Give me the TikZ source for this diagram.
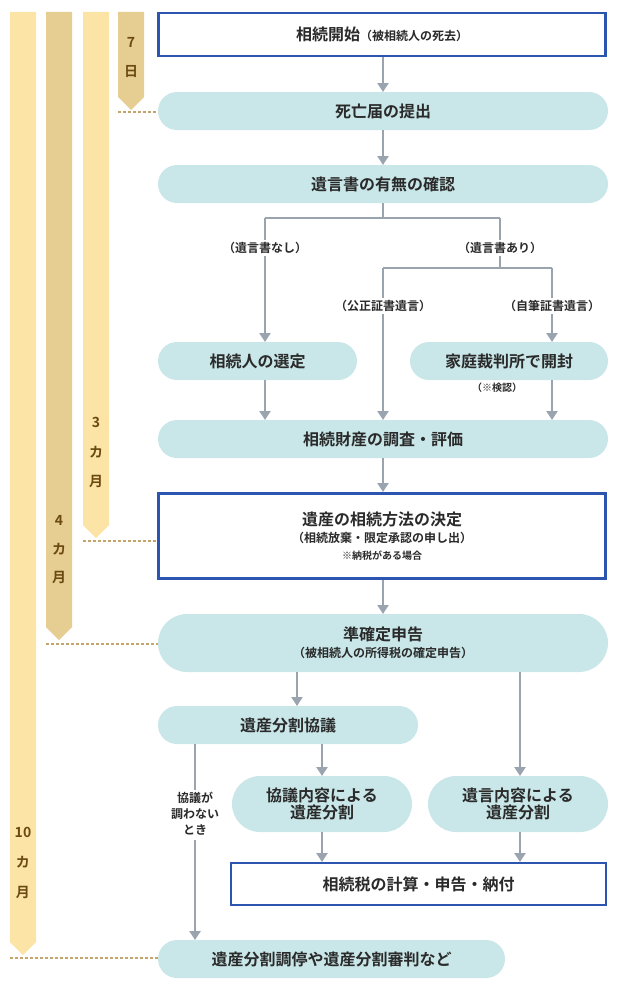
\documentclass[tikz,border=0pt]{standalone}
\usepackage{fontspec}
\setmainfont{Noto Sans CJK JP}[BoldFont={Noto Sans CJK JP Bold}]
\usetikzlibrary{arrows.meta}
\definecolor{pill}{HTML}{C9E6E8}
\definecolor{bblue}{HTML}{2B55B0}
\definecolor{lgold}{HTML}{FCE4A6}
\definecolor{tgold}{HTML}{E6CD92}
\definecolor{dgold}{HTML}{6B4A12}
\definecolor{arr}{HTML}{9AA4AF}
\definecolor{txt}{HTML}{2A2A2A}
\definecolor{dash}{HTML}{C4A46A}
\begin{document}
\begin{tikzpicture}[x=1pt,y=-1pt,
 pillst/.style={fill=pill,rounded corners=19pt,text=txt,font=\bfseries\fontsize{16}{20}\selectfont,align=center},
 boxst/.style={draw=bblue,line width=2.5pt,fill=white,text=txt,font=\bfseries\fontsize{16}{20}\selectfont,align=center},
 con/.style={draw=arr,line width=2.8pt},
 ar/.style={con,-{Triangle[length=9pt,width=11pt]}},
 lab/.style={text=txt,fill=white,inner sep=2pt,font=\bfseries\fontsize{12}{15}\selectfont,align=center},
 bt/.style={text=dgold,font=\bfseries\fontsize{14}{16}\selectfont},
 dl/.style={draw=dash,line width=1.3pt,dash pattern=on 3pt off 2pt}]
\useasboundingbox (0,0) rectangle (620,990);
% bars
\fill[lgold] (10,12) -- (36,12) -- (36,942) -- (23,955) -- (10,942) -- cycle;
\fill[tgold] (46,12) -- (72,12) -- (72,627) -- (59,640) -- (46,627) -- cycle;
\fill[lgold] (83,12) -- (109,12) -- (109,525) -- (96,538) -- (83,525) -- cycle;
\fill[tgold] (118,12) -- (144,12) -- (144,97) -- (131,110) -- (118,97) -- cycle;
\node[bt] (b7) at (131,42) {7}; \node[bt] (b7d) at (131,72) {日};
\node[bt] (b3) at (96,422) {3}; \node[bt] (b3k) at (96,452) {カ}; \node[bt] (b3m) at (96,482) {月};
\node[bt] (b4) at (59,520) {4}; \node[bt] (b4k) at (59,549) {カ}; \node[bt] (b4m) at (59,578) {月};
\node[bt] (b10) at (23,832) {10}; \node[bt] (b10k) at (23,862) {カ}; \node[bt] (b10m) at (23,893) {月};
\draw[dl] (118,112) -- (158,112);
\draw[dl] (83,541) -- (157,541);
\draw[dl] (46,644) -- (158,644);
\draw[dl] (10,958) -- (158,958);
% nodes
\node[boxst,minimum width=447,minimum height=43] (n1) at (382,34.5) {相続開始{\fontsize{12}{14}\selectfont（被相続人の死去）}};
\node[pillst,minimum width=450,minimum height=38] (n2) at (383,111) {死亡届の提出};
\node[pillst,minimum width=450,minimum height=38] (n3) at (383,184) {遺言書の有無の確認};
\node[pillst,minimum width=199,minimum height=38] (n4) at (257.5,361) {相続人の選定};
\node[pillst,minimum width=198,minimum height=38] (n5) at (509,361) {家庭裁判所で開封};
\node[pillst,minimum width=450,minimum height=38] (n6) at (383,439) {相続財産の調査・評価};
\node[boxst,minimum width=447,minimum height=85] (n7) at (382,536) {遺産の相続方法の決定\\[-3pt]{\fontsize{12}{15}\selectfont（相続放棄・限定承認の申し出）}\\[-3pt]{\fontsize{10}{13}\selectfont ※納税がある場合}};
\node[pillst,minimum width=450,minimum height=58,rounded corners=29pt] (n8) at (383,643) {準確定申告\\[-3pt]{\fontsize{12}{15}\selectfont（被相続人の所得税の確定申告）}};
\node[pillst,minimum width=260,minimum height=38] (n9) at (288,725) {遺産分割協議};
\node[pillst,minimum width=180,minimum height=56,rounded corners=28pt] (n10) at (322,804) {協議内容による\\[-3pt]遺産分割};
\node[pillst,minimum width=180,minimum height=56,rounded corners=28pt] (n11) at (518,804) {遺言内容による\\[-3pt]遺産分割};
\node[boxst,minimum width=375,minimum height=42] (n12) at (418.5,884) {相続税の計算・申告・納付};
\node[pillst,minimum width=347,minimum height=38] (n13) at (331.5,959) {遺産分割調停や遺産分割審判など};
% connectors
\coordinate (j1) at (383,218); \coordinate (jl) at (265,218); \coordinate (jr) at (500,218);
\coordinate (j2) at (500,268); \coordinate (j2l) at (383,268); \coordinate (j2r) at (552,268);
\draw[ar] (383,57) -- (383,92);
\draw[ar] (383,130) -- (383,165);
\draw[con] (383,203) -- (j1);
\draw[con] (jl) -- (jr);
\draw[ar] (jl) -- (265,342);
\draw[con] (jr) -- (j2);
\draw[con] (j2l) -- (j2r);
\draw[ar] (j2r) -- (552,342);
\draw[ar] (j2l) -- (383,420);
\draw[ar] (265,380) -- (265,420);
\draw[ar] (552,380) -- (552,420);
\draw[ar] (383,458) -- (383,492);
\draw[ar] (383,580) -- (383,614);
\draw[ar] (297,672) -- (297,706);
\draw[ar] (520,672) -- (520,776);
\draw[ar] (322,744) -- (322,776);
\draw[ar] (322,832) -- (322,862);
\draw[ar] (520,832) -- (520,862);
\draw[con] (195,744) -- (195,790);
\draw[ar] (195,840) -- (195,940);
% labels
\node[lab] (l1) at (265,248) {（遺言書なし）};
\node[lab] (l2) at (500,248) {（遺言書あり）};
\node[lab] (l3) at (383,306) {（公正証書遺言）};
\node[lab] (l4) at (552,306) {（自筆証書遺言）};
\node[lab,font=\bfseries\fontsize{10}{12}\selectfont] (l5) at (497,388) {（※検認）};
\node[lab,font=\bfseries\fontsize{12}{16}\selectfont] (l6) at (195,814) {協議が\\調わない\\とき};
\end{tikzpicture}
\end{document}
